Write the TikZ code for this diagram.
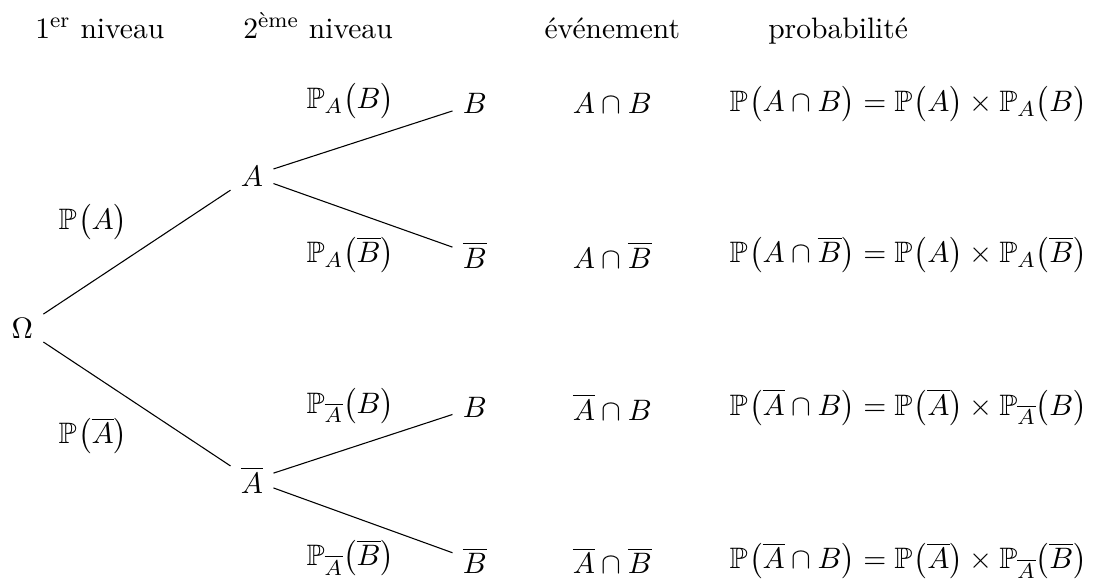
\documentclass[tikz,border=0pt,11pt]{standalone}
\usepackage{amsmath,amssymb}
\usetikzlibrary{positioning}
\newcommand{\pr}[2][]{\mathbb{P}_{#1}\!\left(#2\vphantom{\overline{B}}\right)}

\begin{document}
\begin{tikzpicture}[hd/.style={anchor=base},
lbl/.style={inner sep=2pt},
res/.style={anchor=east,inner sep=1pt},
br/.style={draw=black,thin}]
\useasboundingbox (0,0) rectangle (14.24,7.53);
% en-tetes
\node[hd] (h1) at (1.30,7.03) {1\textsuperscript{er} niveau};
\node[hd] (h2) at (4.14,7.03) {2\textsuperscript{\`eme} niveau};
\node[hd] (h3) at (7.97,7.03) {\'ev\'enement};
\node[hd] (h4) at (10.91,7.03) {probabilit\'e};
% arbre
\node (o) at (0.29,3.26) {$\Omega$};
\node (a) at (3.28,5.24) {$A$};
\node (na) at (3.28,1.28) {$\overline{A}$};
\node (b1) at (6.18,6.18) {$B$};
\node (b2) at (6.18,4.21) {$\overline{B}$};
\node (b3) at (6.18,2.23) {$B$};
\node (b4) at (6.18,0.23) {$\overline{B}$};
\draw[br] (o)--(a); \draw[br] (o)--(na);
\draw[br] (a)--(b1); \draw[br] (a)--(b2);
\draw[br] (na)--(b3); \draw[br] (na)--(b4);
% probabilites des branches
\node[lbl] (pa) at (1.21,4.65) {$\pr{A}$};
\node[lbl] (pna) at (1.21,1.86) {$\pr{\overline{A}}$};
\node[lbl] (pb1) at (4.56,6.22) {$\pr[A]{B}$};
\node[lbl] (pb2) at (4.56,4.21) {$\pr[A]{\overline{B}}$};
\node[lbl] (pb3) at (4.56,2.25) {$\pr[\overline{A}]{B}$};
\node[lbl] (pb4) at (4.56,0.27) {$\pr[\overline{A}]{\overline{B}}$};
% evenements
\node (e1) at (7.97,6.18) {$A\cap B$};
\node (e2) at (7.97,4.21) {$A\cap\overline{B}$};
\node (e3) at (7.97,2.23) {$\overline{A}\cap B$};
\node (e4) at (7.97,0.23) {$\overline{A}\cap\overline{B}$};
% probabilites
\node[res] (r1) at (14.19,6.18) {$\pr{A\cap B}=\pr{A}\times\pr[A]{B}$};
\node[res] (r2) at (14.19,4.21) {$\pr{A\cap\overline{B}}=\pr{A}\times\pr[A]{\overline{B}}$};
\node[res] (r3) at (14.19,2.23) {$\pr{\overline{A}\cap B}=\pr{\overline{A}}\times\pr[\overline{A}]{B}$};
\node[res] (r4) at (14.19,0.23) {$\pr{\overline{A}\cap B}=\pr{\overline{A}}\times\pr[\overline{A}]{\overline{B}}$};
\end{tikzpicture}
\end{document}
